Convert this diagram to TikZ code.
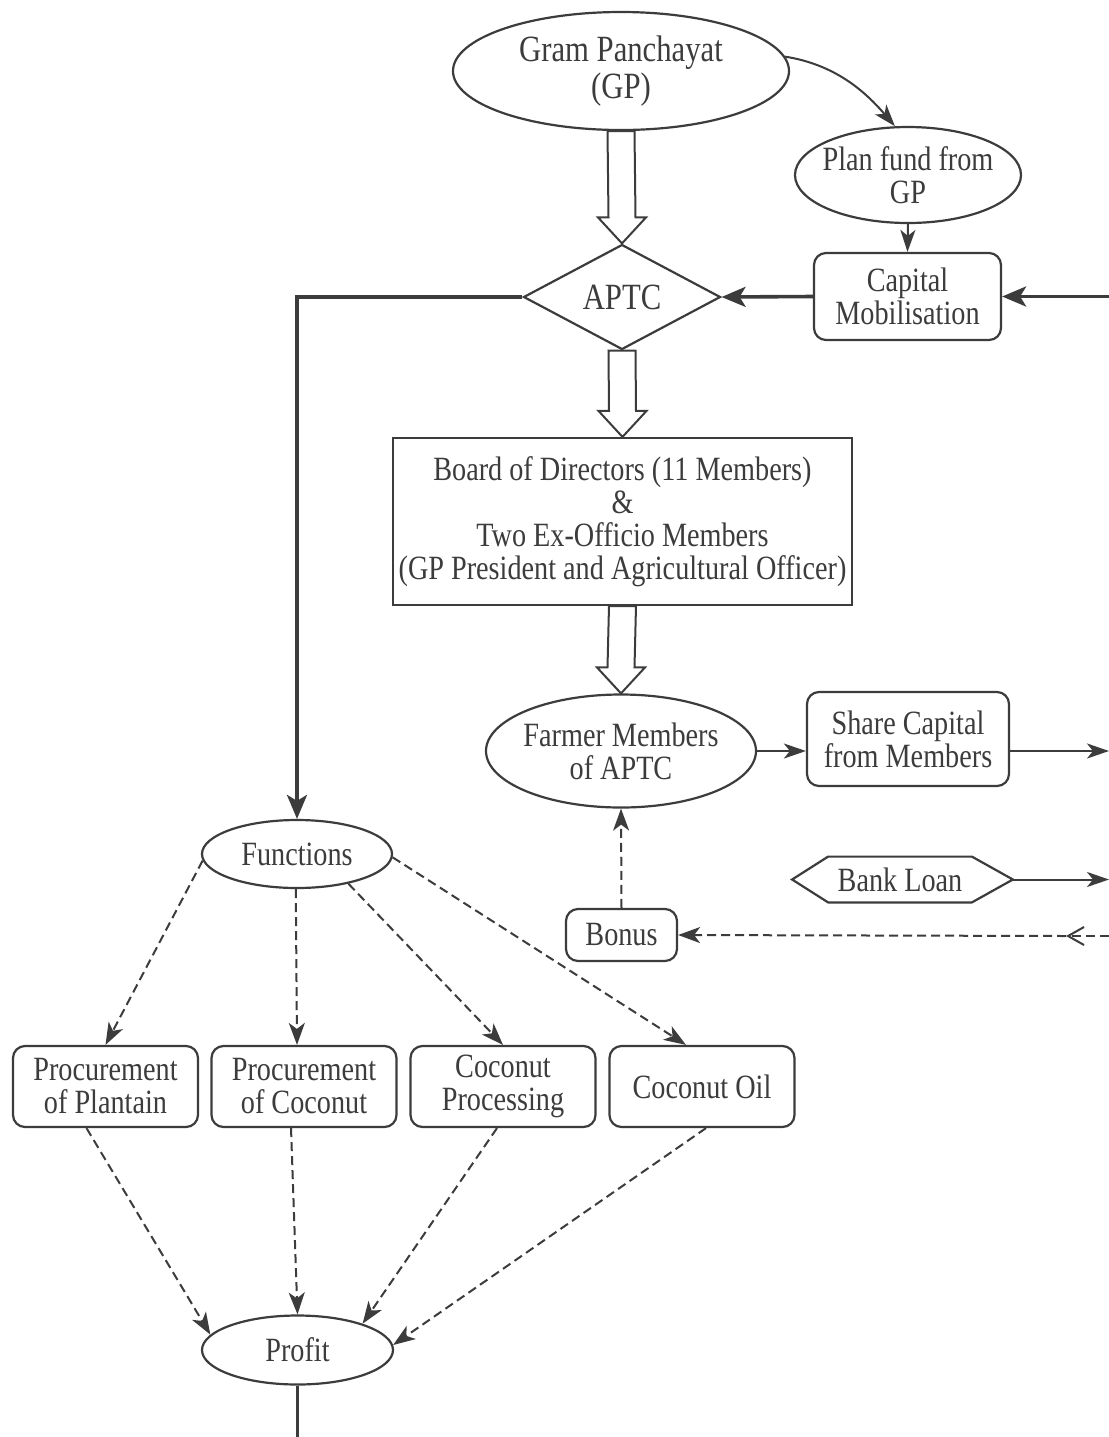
\documentclass[tikz,border=0pt]{standalone}
\usepackage{fontspec}
\newfontfamily\dfont[FakeStretch=0.83]{Liberation Serif}
\usetikzlibrary{shapes.geometric,arrows.meta,calc}
\definecolor{ink}{HTML}{3C3C3C}
\newcommand\hollowarr[2]{%
  \draw[hollow] ($(#1)+(-13.5,0)$) -- ($(#2)+(-13.5,-26)$) -- ($(#2)+(-24,-26)$) -- (#2)
    -- ($(#2)+(24,-26)$) -- ($(#2)+(13.5,-26)$) -- ($(#1)+(13.5,0)$) -- cycle;}
\begin{document}
\begin{tikzpicture}[x=0.5pt,y=-0.5pt,
  every node/.style={text=ink, align=center, font=\dfont\fontsize{17}{16.5}\selectfont},
  ell/.style={draw=ink, line width=1.1pt, ellipse, inner sep=-12pt},
  rbox/.style={draw=ink, line width=1.1pt, rounded corners=6pt, inner sep=2pt},
  sbox/.style={draw=ink, line width=1.1pt, inner sep=2pt},
  thickarr/.style={draw=ink, line width=1.8pt, -{Stealth[length=12pt,width=10pt,inset=3pt]}},
  thickline/.style={draw=ink, line width=1.8pt},
  thinarr/.style={draw=ink, line width=1pt, -{Stealth[length=11pt,width=7.5pt,inset=3pt]}},
  dashline/.style={draw=ink, line width=1pt, dash pattern=on 4.5pt off 2.5pt},
  dasharr/.style={dashline, -{Stealth[length=11pt,width=8pt,inset=3pt]}},
  hollow/.style={draw=ink, line width=1pt, line join=miter},
]
\fill[white] (0,0) rectangle (1109,1437);
\useasboundingbox (0,0) rectangle (1109,1437);

% nodes
\node[ell, minimum width=168pt, minimum height=59pt, font=\dfont\fontsize{18.5}{18.5}\selectfont] (gp) at (621,71) {Gram Panchayat\\(GP)};
\node[ell, minimum width=113pt, minimum height=48pt] (pf) at (908,175) {Plan fund from\\GP};
\node[rbox, minimum width=93.5pt, minimum height=43.5pt] (cm) at (907.5,296.5) {Capital\\Mobilisation};
\node[draw=ink, line width=1.1pt, diamond, inner sep=0pt, minimum width=98.5pt, minimum height=52.5pt, font=\dfont\fontsize{18.5}{18}\selectfont] (ap) at (622,297) {APTC};
\node[sbox, minimum width=229.5pt, minimum height=83.5pt] (bd) at (622.5,521.5) {Board of Directors (11 Members)\\\&\\Two Ex-Officio Members\\(GP President and Agricultural Officer)};
\node[ell, minimum width=135pt, minimum height=56.5pt] (fm) at (621,751) {Farmer Members\\of APTC};
\node[rbox, minimum width=101pt, minimum height=47pt] (sc) at (908,739) {Share Capital\\from Members};
\node[inner sep=0pt, minimum width=71.5pt, minimum height=22.5pt] (bl) at (900,879.5) {Bank Loan};
\draw[ink, line width=1.1pt] (bl.north west) -- (bl.north east) -- ($(bl.east)+(41,0)$) -- (bl.south east)
  -- (bl.south west) -- ($(bl.west)+(-36,0)$) -- cycle;
\coordinate (blr) at ($(bl.east)+(41,0)$);
\node[rbox, minimum width=55.5pt, minimum height=26pt] (bn) at (621.5,935) {Bonus};
\node[ell, minimum width=95pt, minimum height=34pt] (fn) at (297,854) {Functions};
\node[rbox, minimum width=92.5pt, minimum height=40.5pt] (pp) at (105.5,1086.5) {Procurement\\of Plantain};
\node[rbox, minimum width=92.5pt, minimum height=40.5pt] (pc) at (304,1086.5) {Procurement\\of Coconut};
\node[rbox, minimum width=92.5pt, minimum height=40.5pt] (cp) at (503,1086.5) {Coconut\\Processing};
\node[rbox, minimum width=92.5pt, minimum height=40.5pt] (co) at (702,1086.5) {Coconut Oil};
\node[ell, minimum width=95.5pt, minimum height=34.5pt] (pr) at (297.5,1350) {Profit};

% edge coordinates
\coordinate (re1) at (1109,296.5);
\coordinate (re2) at (1109,751);
\coordinate (re3) at (1109,879.5);
\coordinate (re4) at (1109,936);
\coordinate (mk) at (1066,936);
\coordinate (bot) at (297.5,1437);

% hollow arrows
\hollowarr{gp.south}{ap.north}
\hollowarr{ap.south}{bd.north}
\hollowarr{bd.south}{fm.north}

% connectors
\draw[thinarr] (gp.5) .. controls ($(gp.5)+(50,8)$) and ($(pf.105)+(-30,-35)$) .. (pf.105);
\draw[thinarr] (pf.south) -- (cm.north);
\draw[thickarr] (re1) -- (cm.east);
\draw[thickarr] (cm.west) -- (ap.east);
\draw[thickarr] (ap.west) -| (fn.north);
\draw[thinarr] (fm.east) -- (fm.east -| sc.west);
\draw[thinarr] (fm.east -| sc.east) -- (re2);
\draw[thinarr] (blr) -- (re3);
\draw[dashline, -{Straight Barb[length=8pt,width=9pt]}] (re4) -- (mk);
\draw[dasharr] (mk) -- (bn.east);
\draw[dasharr] (bn.north) -- (fm.south);

\draw[dasharr] (fn.184) -- (pp.north);
\draw[dasharr] (fn.268) -- ($(pc.north)+(-7,0)$);
\draw[dasharr] (fn.330) -- (cp.north);
\draw[dasharr] (fn.358) -- ($(co.north)+(-16,0)$);

\draw[dasharr] ($(pp.south)+(-19,0)$) -- (pr.170);
\draw[dasharr] ($(pc.south)+(-13,0)$) -- (pr.north);
\draw[dasharr] ($(cp.south)+(-6,0)$) -- (pr.22);
\draw[dasharr] ($(co.south)+(4,0)$) -- (pr.3);

\draw[thickline] (pr.south) -- (bot);
\end{tikzpicture}
\end{document}
